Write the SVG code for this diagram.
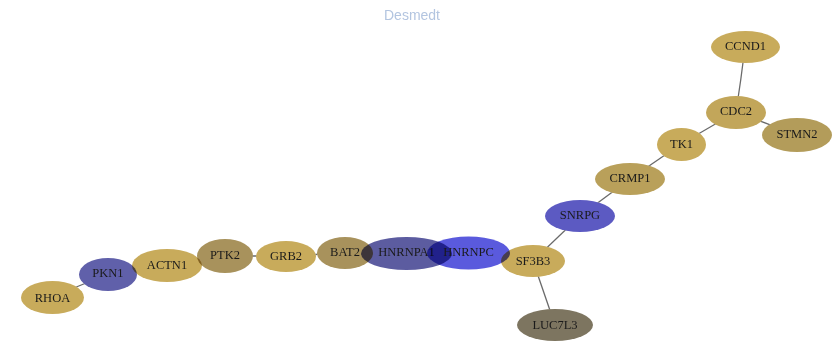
<svg xmlns="http://www.w3.org/2000/svg" width="835" height="341" viewBox="0 0 835 341">
  <style>
    .edge { stroke: #6a6a6a; stroke-width: 1.3; fill: none; }
    .under ellipse { fill: #ffffff; }
    .node ellipse { mix-blend-mode: multiply; }
    .label text { font-family: "Liberation Serif", serif; font-size: 12.5px; fill: #1a1a1a; text-anchor: middle; dominant-baseline: central; }
    .gold { fill: #c8ab5b; }
    .olive { fill: #a8925c; }
    .tan { fill: #b9a05a; }
    .grey { fill: #7d7560; }
    .violet { fill: #6060aa; }
    .blue { fill: #5c5ac2; }
    .title { font-family: "Liberation Sans", Arial, sans-serif; font-size: 14px; fill: #b3c5e0; text-anchor: middle; }
  </style>
  <rect width="835" height="341" fill="#ffffff"/>
  <text class="title" x="412" y="20">Desmedt</text>

  <g id="edges">
    <line class="edge" x1="52" y1="297" x2="108" y2="274"/>
    <line class="edge" x1="108" y1="274" x2="167" y2="265"/>
    <line class="edge" x1="167" y1="265" x2="225" y2="256"/>
    <line class="edge" x1="225" y1="256" x2="286" y2="256"/>
    <line class="edge" x1="286" y1="256" x2="345" y2="253"/>
    <line class="edge" x1="345" y1="253" x2="406" y2="253"/>
    <line class="edge" x1="406" y1="253" x2="468" y2="253"/>
    <line class="edge" x1="468" y1="253" x2="533" y2="261"/>
    <line class="edge" x1="533" y1="261" x2="555" y2="325"/>
    <line class="edge" x1="533" y1="261" x2="580" y2="216"/>
    <line class="edge" x1="580" y1="216" x2="630" y2="179"/>
    <line class="edge" x1="630" y1="179" x2="681" y2="144"/>
    <line class="edge" x1="681" y1="144" x2="736" y2="112"/>
    <line class="edge" x1="736" y1="112" x2="797" y2="135"/>
    <path class="edge" d="M736 112 Q741 80 745 47"/>
  </g>

  <!-- white backing so connectors stay hidden beneath the blended node fills -->
  <g class="under">
    <ellipse cx="52.5" cy="297.5" rx="31.5" ry="16.5"/>
    <ellipse cx="108" cy="274.5" rx="29" ry="16.5"/>
    <ellipse cx="167" cy="265.5" rx="35" ry="16.5"/>
    <ellipse cx="225" cy="256" rx="28" ry="17"/>
    <ellipse cx="286" cy="256.5" rx="30" ry="15.5"/>
    <ellipse cx="345" cy="253" rx="28" ry="16"/>
    <ellipse cx="406.5" cy="253.5" rx="45.5" ry="16.5"/>
    <ellipse cx="468.5" cy="253" rx="41.5" ry="16.5"/>
    <ellipse cx="533" cy="261" rx="32" ry="16"/>
    <ellipse cx="555" cy="325" rx="38" ry="16"/>
    <ellipse cx="580" cy="216" rx="35" ry="16"/>
    <ellipse cx="630" cy="179" rx="35" ry="16"/>
    <ellipse cx="681.5" cy="144.5" rx="24.5" ry="16.5"/>
    <ellipse cx="736" cy="112.5" rx="30" ry="16.5"/>
    <ellipse cx="797" cy="135" rx="35" ry="17"/>
    <ellipse cx="745.5" cy="47" rx="34.5" ry="16"/>
  </g>

  <g id="RHOA" class="node label"><ellipse class="gold" cx="52.5" cy="297.5" rx="31.5" ry="16.5"/><text x="52.5" y="297.5">RHOA</text></g>
  <g id="PKN1" class="node label"><ellipse class="violet" cx="108" cy="274.5" rx="29" ry="16.5"/><text x="108" y="273">PKN1</text></g>
  <g id="ACTN1" class="node label"><ellipse class="gold" cx="167" cy="265.5" rx="35" ry="16.5"/><text x="167" y="265">ACTN1</text></g>
  <g id="PTK2" class="node label"><ellipse class="olive" cx="225" cy="256" rx="28" ry="17"/><text x="225" y="254.5">PTK2</text></g>
  <g id="GRB2" class="node label"><ellipse class="gold" cx="286" cy="256.5" rx="30" ry="15.5"/><text x="286" y="255.5">GRB2</text></g>
  <g id="BAT2" class="node label"><ellipse class="olive" cx="345" cy="253" rx="28" ry="16"/><text x="345" y="251.5">BAT2</text></g>
  <g id="HNRNPA1" class="node label"><ellipse fill="#5c5ca0" cx="406.5" cy="253.5" rx="45.5" ry="16.5"/><text x="406.5" y="251.5">HNRNPA1</text></g>
  <g id="HNRNPC" class="node label"><ellipse fill="#5a5add" cx="468.5" cy="253" rx="41.5" ry="16.5"/><text x="468.5" y="251.5">HNRNPC</text></g>
  <g id="SF3B3" class="node label"><ellipse class="gold" cx="533" cy="261" rx="32" ry="16"/><text x="533" y="260.5">SF3B3</text></g>
  <g id="LUC7L3" class="node label"><ellipse class="grey" cx="555" cy="325" rx="38" ry="16"/><text x="555" y="324.5">LUC7L3</text></g>
  <g id="SNRPG" class="node label"><ellipse class="blue" cx="580" cy="216" rx="35" ry="16"/><text x="580" y="214.5">SNRPG</text></g>
  <g id="CRMP1" class="node label"><ellipse class="tan" cx="630" cy="179" rx="35" ry="16"/><text x="630" y="177.5">CRMP1</text></g>
  <g id="TK1" class="node label"><ellipse class="gold" cx="681.5" cy="144.5" rx="24.5" ry="16.5"/><text x="681.5" y="143.5">TK1</text></g>
  <g id="CDC2" class="node label"><ellipse fill="#c2a65a" cx="736" cy="112.5" rx="30" ry="16.5"/><text x="736" y="110.5">CDC2</text></g>
  <g id="STMN2" class="node label"><ellipse fill="#b39c5a" cx="797" cy="135" rx="35" ry="17"/><text x="797" y="133.5">STMN2</text></g>
  <g id="CCND1" class="node label"><ellipse class="gold" cx="745.5" cy="47" rx="34.5" ry="16"/><text x="745.5" y="46">CCND1</text></g>
</svg>
